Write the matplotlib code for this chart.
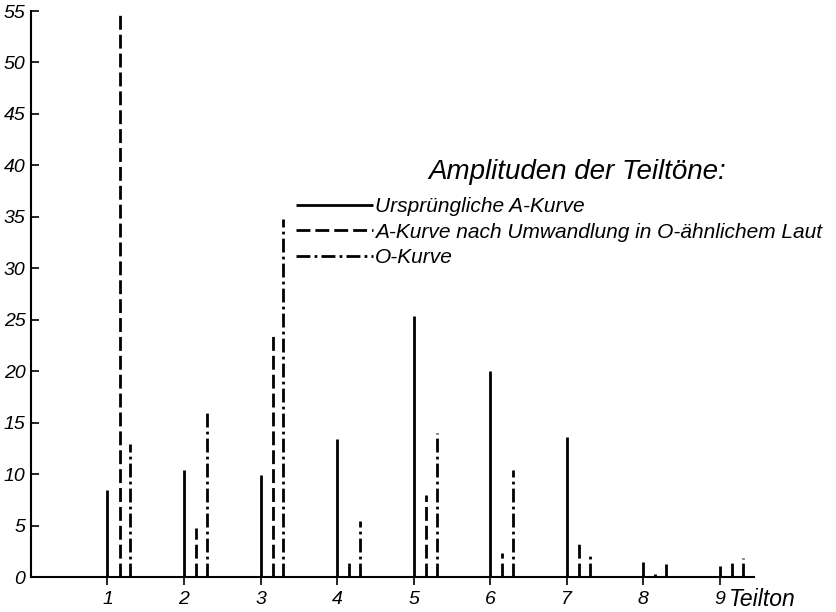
import matplotlib.pyplot as plt
import numpy as np

# Teiltöne (partials) and their amplitudes
teilton = np.arange(1, 10)
a_kurve = [8.5, 10.4, 9.9, 13.4, 25.4, 20.0, 13.6, 1.5, 1.1]
a_umgewandelt = [55.0, 4.8, 23.5, 1.6, 8.0, 2.3, 3.2, 0.3, 1.5]
o_kurve = [12.9, 16.1, 34.8, 5.5, 14.0, 10.4, 2.3, 1.3, 1.9]

labels = ["Ursprüngliche A-Kurve",
          "A-Kurve nach Umwandlung in O-ähnlichem Laut",
          "O-Kurve"]

font = dict(family=["Liberation Sans", "DejaVu Sans"], style="italic")

fig = plt.figure(figsize=(8.36, 6.12), dpi=100)
ax = fig.add_axes([0.037, 0.057, 0.865, 0.925])

lw = 2.0
ax.vlines(teilton, 0, a_kurve, colors="black", linewidth=lw,
          linestyles="solid", label=labels[0])
ax.vlines(teilton + 0.16, 0, a_umgewandelt, colors="black", linewidth=lw,
          linestyles=(0, (5, 1.8)), label=labels[1])
ax.vlines(teilton + 0.3, 0, o_kurve, colors="black", linewidth=lw,
          linestyles=(0, (5, 1.5, 1, 1.5)), label=labels[2])

ax.set_xlim(0, 9.45)
ax.set_ylim(0, 55)
ax.spines["top"].set_visible(False)
ax.spines["right"].set_visible(False)
ax.spines["left"].set_linewidth(1.5)
ax.spines["bottom"].set_linewidth(1.5)

ax.set_xticks(teilton)
ax.set_xticklabels([str(t) for t in teilton], fontsize=14, **font)
ax.set_yticks(np.arange(0, 56, 5))
ax.set_yticklabels([str(v) for v in range(0, 56, 5)], fontsize=14, **font)
ax.tick_params(axis="y", direction="in", length=6, width=1.2, pad=4)
ax.tick_params(axis="x", direction="out", length=6, width=1.2, pad=4)

ax.text(9.12, -2.2, "Teilton", fontsize=16.5, ha="left", va="center", **font)

ax.text(0.755, 0.715, "Amplituden der Teiltöne:", transform=ax.transAxes,
        fontsize=20, ha="center", va="center", **font)
leg = ax.legend(loc="upper left", bbox_to_anchor=(0.34, 0.704), frameon=False,
                handlelength=3.7, handletextpad=0.1, labelspacing=0.3,
                prop=dict(size=15, **font))

fig.savefig("out.png", dpi=100)
